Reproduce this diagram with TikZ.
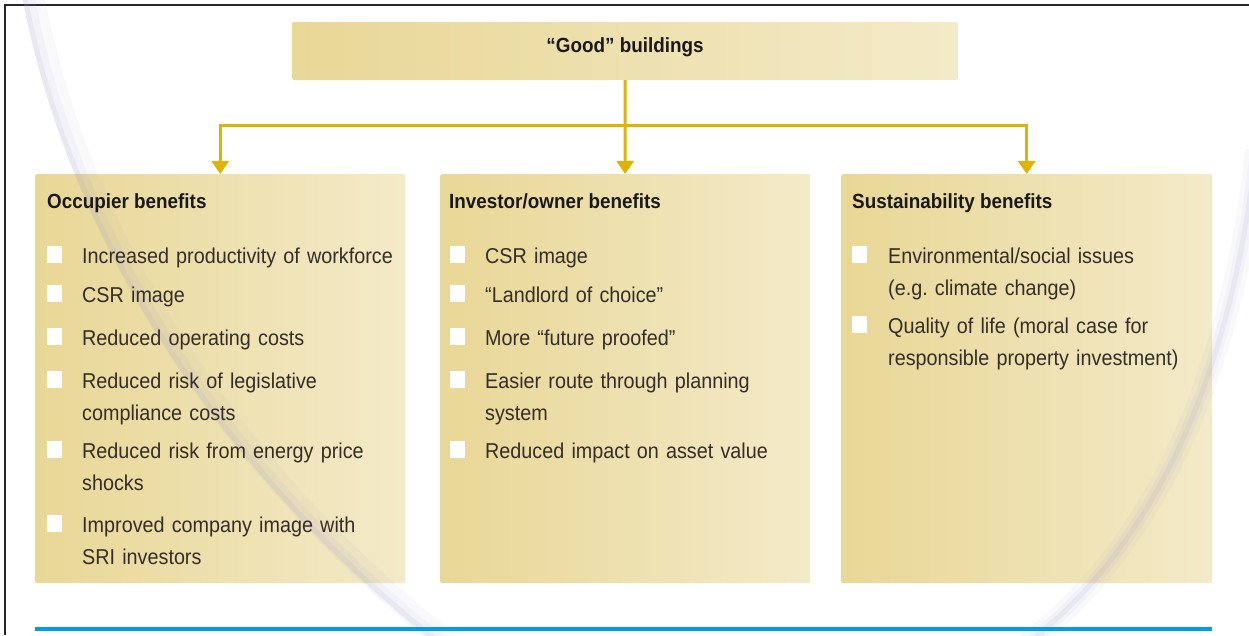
\documentclass[tikz,border=0pt]{standalone}
\usepackage{fontspec}
\setmainfont{Liberation Sans}[FakeStretch=0.92]
\usepackage{xcolor}
\usetikzlibrary{shapes,arrows.meta,positioning,calc}
\definecolor{gold}{RGB}{224,179,0}
\definecolor{paneleft}{RGB}{233,215,150}
\definecolor{paneright}{RGB}{243,234,200}
\definecolor{rulerblue}{RGB}{0,158,224}
\definecolor{curl}{RGB}{160,160,205}
\definecolor{ink}{RGB}{52,46,40}

\begin{document}
\begin{tikzpicture}[x=1pt,y=-1pt]
  \tikzstyle{panel}=[rectangle, rounded corners=2pt, inner sep=0pt, left color=paneleft, right color=paneright]
  \tikzstyle{head}=[anchor=base west, inner sep=0pt, font=\fontsize{20.5}{30}\selectfont\bfseries, text=black!90]
  \tikzstyle{item}=[anchor=base west, inner sep=0pt, text width=330pt, align=left, font=\fontsize{21.5}{32}\selectfont, text=ink]
  \tikzstyle{tick}=[rectangle, fill=white, inner sep=0pt, minimum width=15pt, minimum height=17pt, anchor=south west]
  \tikzstyle{link}=[gold, line width=3pt, -{Triangle[width=17pt,length=13pt]}]

  \useasboundingbox (0,0) rectangle (1249,635);
  \fill[white] (0,0) rectangle (1249,635);

  % page edge
  \draw[black!85, line width=2pt] (5,635) -- (5,5) -- (1249,5);

  \node[panel, minimum width=666pt, minimum height=58pt, text height=12pt, text depth=10pt, font=\fontsize{20.5}{24}\selectfont\bfseries, text=black!90] (good) at (625,51) {“Good” buildings};
  \node[panel, anchor=north west, minimum width=370pt, minimum height=409pt] (occ) at (35,174) {};
  \node[panel, anchor=north west, minimum width=370pt, minimum height=409pt] (inv) at (440,174) {};
  \node[panel, anchor=north west, minimum width=371pt, minimum height=409pt] (sus) at (841,174) {};

  % branches
  \coordinate (split) at (625,125);
  \draw[link] (good.south) -- (inv.north);
  \draw[link] (split) -| (occ.north);
  \draw[link] (split) -| (sus.north);

  % page curl shadow
  \foreach \w/\o in {22/0.06, 12/0.08, 5/0.12}
  {
    \draw[curl, line width=\w pt, opacity=\o, xshift=\w/2 pt] (22,-5) .. controls (70,250) and (230,480) .. (440,645);
    \draw[curl, line width=\w pt, opacity=\o] (1256,150) .. controls (1240,300) and (1190,520) .. (1025,645);
  }

  \node[head] (occ-head) at (47,208) {Occupier benefits};
  \node[head] (inv-head) at (449,208) {Investor/owner benefits};
  \node[head] (sus-head) at (852,208) {Sustainability benefits};

  \foreach \y/\txt [count=\i] in {263/{Increased productivity of workforce}, 302/{CSR image}, 345/{Reduced operating costs}, 388/{Reduced risk of legislative\\compliance costs}, 458/{Reduced risk from energy price\\shocks}, 532/{Improved company image with\\SRI investors}}
  {
    \node[tick] (occ-tick-\i) at (47,\y) {};
    \node[item] (occ-item-\i) at (82,\y) {\txt};
  }
  \foreach \y/\txt [count=\i] in {263/{CSR image}, 302/{“Landlord of choice”}, 345/{More “future proofed”}, 388/{Easier route through planning\\system}, 458/{Reduced impact on asset value}}
  {
    \node[tick] (inv-tick-\i) at (450,\y) {};
    \node[item] (inv-item-\i) at (485,\y) {\txt};
  }
  \foreach \y/\txt [count=\i] in {263/{Environmental/social issues\\(e.g.\ climate change)}, 333/{Quality of life (moral case for\\responsible property investment)}}
  {
    \node[tick] (sus-tick-\i) at (852,\y) {};
    \node[item] (sus-item-\i) at (888,\y) {\txt};
  }

  % bottom rule
  \draw[rulerblue, line width=4pt] (35,629) -- (1212,629);
\end{tikzpicture}
\end{document}
